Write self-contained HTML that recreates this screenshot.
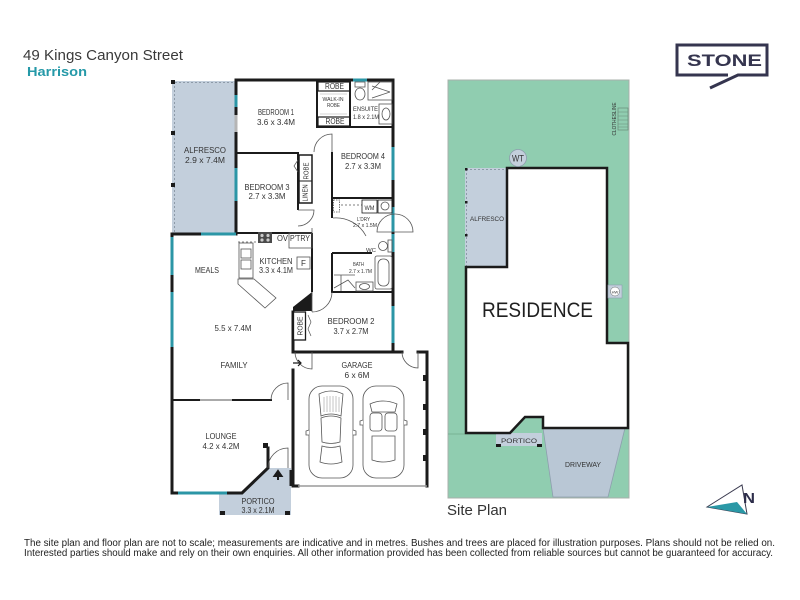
<!DOCTYPE html>
<html><head><meta charset="utf-8"><style>
html,body{margin:0;padding:0;background:#fff;}
svg{display:block}
text{font-family:"Liberation Sans",Arial,sans-serif;}
</style></head><body>
<svg width="800" height="600" viewBox="0 0 800 600" xmlns="http://www.w3.org/2000/svg">
<rect width="800" height="600" fill="#fff"/>

<!-- Header -->
<text x="23" y="60" font-size="14.5" fill="#3a3a3a" textLength="160" lengthAdjust="spacingAndGlyphs">49 Kings Canyon Street</text>
<text x="27" y="76" font-size="13" font-weight="bold" fill="#2599a8" textLength="60" lengthAdjust="spacingAndGlyphs">Harrison</text>

<!-- STONE logo -->
<g stroke="#35354f" stroke-width="3" fill="none">
  <path d="M728,75 H677 V45 H767 V75 H738 L710,88"/>
</g>
<text x="687" y="66" font-size="17" font-weight="bold" fill="#35354f" textLength="75" lengthAdjust="spacingAndGlyphs">STONE</text>

<!-- ================= FLOOR PLAN ================= -->
<!-- Alfresco -->
<rect x="172" y="81" width="64" height="153" fill="#c3cfdc"/>
<line x1="175" y1="82.5" x2="236" y2="82.5" stroke="#8d9aa8" stroke-width="1" stroke-dasharray="2,2"/>
<line x1="174.5" y1="82" x2="174.5" y2="233" stroke="#8d9aa8" stroke-width="1" stroke-dasharray="2,2"/>
<g fill="#1b1b1b">
  <rect x="171" y="80" width="4" height="4"/>
  <rect x="171" y="131" width="4" height="4"/>
  <rect x="171" y="183" width="4" height="4"/>
</g>

<!-- Portico fill -->
<polygon points="219,493 242,493 268,468 291,468 291,515 219,515" fill="#c3cfdc"/>
<g fill="#1b1b1b">
  <rect x="220" y="511" width="5" height="4"/>
  <rect x="285" y="511" width="5" height="4"/>
  <rect x="263" y="443" width="5" height="5"/>
</g>

<!-- Outer walls -->
<g stroke="#1b1b1b" stroke-width="3" fill="none" stroke-linecap="square">
  <path d="M236,80 H393 V352"/>
  <path d="M293,352 H402"/>
  <path d="M418,352 H427 V486"/>
  <path d="M172,234 H236 V80"/>
  <path d="M172,234 V493 H242 L268,468 V448"/>
  <path d="M293,370 V486 H298"/>
  <path d="M293,312 V352"/>
</g>
<line x1="298" y1="486" x2="427" y2="486" stroke="#9a9a9a" stroke-width="1.5"/>
<line x1="291" y1="470" x2="291" y2="486" stroke="#1b1b1b" stroke-width="3"/>
<g fill="#1b1b1b">
  <rect x="423" y="375" width="5" height="6"/>
  <rect x="423" y="404" width="5" height="6"/>
  <rect x="423" y="429" width="5" height="6"/>
  <rect x="423" y="455" width="5" height="6"/>
</g>

<!-- Windows (teal) -->
<g stroke="#2b96a6" stroke-width="3" fill="none">
  <line x1="353" y1="80" x2="367" y2="80"/>
  <line x1="393" y1="147" x2="393" y2="180"/>
  <line x1="393" y1="207" x2="393" y2="232"/>
  <line x1="393" y1="234" x2="393" y2="252"/>
  <line x1="393" y1="306" x2="393" y2="343"/>
  <line x1="172" y1="237" x2="172" y2="275"/>
  <line x1="172" y1="292" x2="172" y2="347"/>
  <line x1="201" y1="234" x2="236" y2="234"/>
  <line x1="178" y1="493" x2="227" y2="493"/>
  <line x1="236" y1="95" x2="236" y2="107"/>
  <line x1="236" y1="168" x2="236" y2="201"/>
</g>
<line x1="236" y1="115" x2="236" y2="132" stroke="#b5b5b5" stroke-width="3"/>

<!-- Interior walls -->
<g stroke="#1b1b1b" stroke-width="2" fill="none">
  <path d="M236,153 H298 V210"/>
  <path d="M317,80 V127 H393"/>
  <path d="M350,80 V127"/>
  <path d="M332,152 V218"/>
  <path d="M332,198 H393"/>
  <path d="M332,253 H372"/>
  <path d="M332,253 V292 H393"/>
  <path d="M312,233 V292"/>
  <path d="M236,233 H312"/>
  <path d="M172,400 H272"/>
  <path d="M332,292 H334"/>
</g>
<!-- Linen / robe closet -->
<rect x="299" y="155" width="13" height="48" fill="#fff" stroke="#1b1b1b" stroke-width="1.5"/>
<line x1="299" y1="181" x2="312" y2="181" stroke="#1b1b1b" stroke-width="1"/>
<path d="M298,160 L294,166 L298,172" stroke="#555" stroke-width="0.7" fill="none"/>

<!-- Black triangle + robe bedroom 2 -->
<polygon points="293,307 312,292 312,311 293,311" fill="#1b1b1b"/>
<rect x="293.5" y="312" width="12" height="28" fill="#fff" stroke="#1b1b1b" stroke-width="1.3"/>
<path d="M308,315 L311,322 L308,329 L311,336" stroke="#555" stroke-width="0.7" fill="none"/>

<!-- Walk-in robe shelves -->
<g stroke="#1b1b1b" stroke-width="1.2" fill="none">
  <rect x="318" y="82" width="32" height="9"/>
  <rect x="318" y="117" width="32" height="9"/>
</g>
<line x1="320" y1="94" x2="347" y2="94" stroke="#aaa" stroke-width="0.6"/>
<line x1="320" y1="114" x2="347" y2="114" stroke="#aaa" stroke-width="0.6"/>

<!-- Ensuite fixtures -->
<g stroke="#555" stroke-width="0.8" fill="none">
  <rect x="355" y="82" width="10" height="5"/>
  <ellipse cx="360" cy="94" rx="5" ry="6"/>
  <rect x="368" y="82" width="24" height="18"/>
  <path d="M372,86 L390,92 M372,98 L390,92 M380,82 L372,90"/>
  <rect x="379" y="104" width="13" height="20"/>
  <ellipse cx="386" cy="114" rx="4" ry="6"/>
</g>

<!-- Laundry fixtures -->
<g stroke="#555" stroke-width="0.8" fill="none">
  <rect x="333.5" y="200" width="6" height="12" stroke-dasharray="1.5,1"/>
  <line x1="341" y1="205" x2="362" y2="205" stroke-dasharray="2,2"/>
  <rect x="362" y="200" width="15" height="13" stroke="#1b1b1b"/>
  <rect x="378" y="200" width="14" height="13" stroke="#1b1b1b"/>
  <ellipse cx="385" cy="206" rx="4" ry="4"/>
</g>
<text x="369.5" y="210" font-size="6" fill="#333" text-anchor="middle" textLength="10" lengthAdjust="spacingAndGlyphs">WM</text>

<!-- WC & Bath fixtures -->
<g stroke="#555" stroke-width="0.8" fill="none">
  <ellipse cx="383" cy="246" rx="4.5" ry="4.5"/>
  <rect x="388" y="240" width="4" height="12"/>
  <rect x="375" y="256" width="17" height="33" rx="2"/>
  <rect x="378" y="259" width="11" height="27" rx="5"/>
  <rect x="356" y="282" width="17" height="9"/>
  <ellipse cx="364.5" cy="286.5" rx="5" ry="3"/>
  <path d="M334,275 L355,275 M334,288 L348,280 L355,288 M341,275 L341,291"/>
</g>

<!-- Kitchen -->
<g stroke="#555" stroke-width="0.8" fill="none">
  <line x1="238" y1="242" x2="258" y2="242" stroke-dasharray="2,2"/>
  <rect x="239" y="243" width="14" height="35"/>
  <rect x="241" y="249" width="10" height="9"/>
  <rect x="241" y="260" width="10" height="9"/>
  <polygon points="238,279 254,279 276,298 265,308 238,284"/>
  <rect x="289" y="233" width="23" height="15"/>
  <rect x="297" y="257" width="13" height="12"/>
  <line x1="312" y1="292" x2="312" y2="296"/>
</g>
<rect x="258" y="232" width="14" height="11" fill="#4a4a4a"/>
<g fill="#ccc"><circle cx="262" cy="235.5" r="1.6"/><circle cx="268" cy="235.5" r="1.6"/><circle cx="262" cy="240" r="1.6"/><circle cx="268" cy="240" r="1.6"/></g>

<!-- Doors -->
<g stroke="#555" stroke-width="0.8" fill="none">
  <path d="M332,152 V134 A18,18 0 0,0 314,152"/>
  <path d="M298,210 H314 A16,16 0 0,1 298,226"/>
  <path d="M333,218 A34,34 0 0,1 366,236"/>
  <path d="M377,232 A18,18 0 0,1 413,232 Z"/>
  <path d="M312,292 V312 M312,312 A20,20 0 0,0 332,292"/>
  <path d="M288,400 V383 A17,17 0 0,0 271,400"/>
  <path d="M312,352 V369 A17,17 0 0,1 295,352"/>
  <path d="M418,352 V368 A16,16 0 0,1 402,352"/>
  <path d="M288,468 V448 A20,20 0 0,0 268,468"/>
  <path d="M312,228 V248"/>
</g>
<line x1="200" y1="400" x2="232" y2="400" stroke="#aaa" stroke-width="2"/>
<!-- arrows -->
<path d="M293,363 H301 M298,360 L301,363 L298,366" stroke="#1b1b1b" stroke-width="1.2" fill="none"/>
<path d="M278,480 V474 M274.5,476 L278,471 L281.5,476 Z" stroke="#1b1b1b" stroke-width="2" fill="#1b1b1b"/>

<!-- Cars -->
<g stroke="#555" stroke-width="0.8" fill="#fff">
  <rect x="309" y="386" width="44" height="92" rx="13"/>
  <path d="M319,394 Q331,388 343,394 L341,416 Q331,412 321,416 Z"/>
  <path d="M321,418 Q331,414 341,418 L340,442 Q331,445 322,442 Z"/>
  <path d="M322,446 Q331,449 340,446 L342,462 Q331,466 320,462 Z"/>
  <path d="M309,430 l-3,1 l0,4 l3,0 M353,430 l3,1 l0,4 l-3,0"/>
  <rect x="363" y="386" width="41" height="92" rx="13"/>
  <path d="M370,404 Q383,398 397,404 L395,412 L372,412 Z"/>
  <rect x="370" y="413" width="12" height="18" rx="3"/>
  <rect x="385" y="413" width="12" height="18" rx="3"/>
  <path d="M372,436 L395,436 L395,460 Q383,464 372,460 Z"/>
  <path d="M363,420 l-3,1 l0,4 l3,0 M404,420 l3,1 l0,4 l-3,0"/>
</g>
<g stroke="#888" stroke-width="0.5">
  <path d="M324,397 V412 M327,396 V412 M330,396 V412 M333,396 V412 M336,396 V412 M339,397 V412"/>
</g>

<!-- Floor plan labels -->
<g font-size="8" fill="#333" text-anchor="middle">
  <text x="276" y="115" textLength="36" lengthAdjust="spacingAndGlyphs">BEDROOM 1</text>
  <text x="276" y="125" textLength="38" lengthAdjust="spacingAndGlyphs">3.6 x 3.4M</text>
  <text x="205" y="153" textLength="42" lengthAdjust="spacingAndGlyphs">ALFRESCO</text>
  <text x="205" y="163" textLength="40" lengthAdjust="spacingAndGlyphs">2.9 x 7.4M</text>
  <text x="363" y="159" textLength="44" lengthAdjust="spacingAndGlyphs">BEDROOM 4</text>
  <text x="363" y="169" textLength="36" lengthAdjust="spacingAndGlyphs">2.7 x 3.3M</text>
  <text x="267" y="190" textLength="45" lengthAdjust="spacingAndGlyphs">BEDROOM 3</text>
  <text x="267" y="199" textLength="37" lengthAdjust="spacingAndGlyphs">2.7 x 3.3M</text>
  <text x="207" y="273" textLength="24" lengthAdjust="spacingAndGlyphs">MEALS</text>
  <text x="276" y="264" textLength="33" lengthAdjust="spacingAndGlyphs">KITCHEN</text>
  <text x="276" y="273" textLength="34" lengthAdjust="spacingAndGlyphs">3.3 x 4.1M</text>
  <text x="233" y="331" textLength="37" lengthAdjust="spacingAndGlyphs">5.5 x 7.4M</text>
  <text x="234" y="368" textLength="27" lengthAdjust="spacingAndGlyphs">FAMILY</text>
  <text x="351" y="324" textLength="47" lengthAdjust="spacingAndGlyphs">BEDROOM 2</text>
  <text x="351" y="334" textLength="35" lengthAdjust="spacingAndGlyphs">3.7 x 2.7M</text>
  <text x="357" y="368" textLength="31" lengthAdjust="spacingAndGlyphs">GARAGE</text>
  <text x="357" y="378" textLength="25" lengthAdjust="spacingAndGlyphs">6 x 6M</text>
  <text x="221" y="439" textLength="31" lengthAdjust="spacingAndGlyphs">LOUNGE</text>
  <text x="221" y="449" textLength="37" lengthAdjust="spacingAndGlyphs">4.2 x 4.2M</text>
  <text x="258" y="504" textLength="33" lengthAdjust="spacingAndGlyphs">PORTICO</text>
  <text x="258" y="513" textLength="33" lengthAdjust="spacingAndGlyphs">3.3 x 2.1M</text>
  <text x="282.5" y="241" textLength="11" lengthAdjust="spacingAndGlyphs">OV</text>
  <text x="300" y="241" textLength="20" lengthAdjust="spacingAndGlyphs">P'TRY</text>
  <text x="303.5" y="266">F</text>
  <text x="334.5" y="89" textLength="19" lengthAdjust="spacingAndGlyphs">ROBE</text>
  <text x="335" y="124" textLength="19" lengthAdjust="spacingAndGlyphs">ROBE</text>
</g>
<g font-size="5.5" fill="#333" text-anchor="middle">
  <text x="333" y="101" textLength="21" lengthAdjust="spacingAndGlyphs">WALK-IN</text>
  <text x="333.5" y="107" textLength="13" lengthAdjust="spacingAndGlyphs">ROBE</text>
  <text x="365.5" y="111" font-size="6.5" textLength="25" lengthAdjust="spacingAndGlyphs">ENSUITE</text>
  <text x="366" y="119" font-size="6.5" textLength="26" lengthAdjust="spacingAndGlyphs">1.8 x 2.1M</text>
  <text x="363.5" y="221" textLength="13" lengthAdjust="spacingAndGlyphs">L'DRY</text>
  <text x="365" y="227" textLength="24" lengthAdjust="spacingAndGlyphs">2.7 x 1.5M</text>
  <text x="371" y="252" textLength="10" lengthAdjust="spacingAndGlyphs">WC</text>
  <text x="358.5" y="266" textLength="11" lengthAdjust="spacingAndGlyphs">BATH</text>
  <text x="360.5" y="273" textLength="23" lengthAdjust="spacingAndGlyphs">2.7 x 1.7M</text>
</g>
<g font-size="7" fill="#333" text-anchor="middle">
  <text transform="translate(307.5,193) rotate(-90)" textLength="17" lengthAdjust="spacingAndGlyphs">LINEN</text>
  <text transform="translate(308.5,171) rotate(-90)" textLength="17" lengthAdjust="spacingAndGlyphs">ROBE</text>
  <text transform="translate(302.5,326) rotate(-90)" textLength="19" lengthAdjust="spacingAndGlyphs">ROBE</text>
</g>

<!-- ================= SITE PLAN ================= -->
<rect x="448" y="80" width="181" height="418" fill="#90cdb0" stroke="#a8b0ab" stroke-width="1"/>
<line x1="448" y1="434" x2="496" y2="434" stroke="#6fa88c" stroke-width="0.8"/>
<!-- Alfresco -->
<rect x="465" y="168" width="42" height="99" fill="#c3cfdc"/>
<line x1="466" y1="169.5" x2="507" y2="169.5" stroke="#8d9aa8" stroke-width="1" stroke-dasharray="2,2"/>
<line x1="466.5" y1="169" x2="466.5" y2="267" stroke="#8d9aa8" stroke-width="1" stroke-dasharray="2,2"/>
<g fill="#1b1b1b">
  <rect x="465" y="168" width="2.5" height="2.5"/>
  <rect x="465" y="201" width="2.5" height="2.5"/>
  <rect x="465" y="234" width="2.5" height="2.5"/>
</g>
<text x="487" y="221" font-size="6.5" fill="#333" text-anchor="middle" textLength="34" lengthAdjust="spacingAndGlyphs">ALFRESCO</text>
<!-- Driveway -->
<polygon points="543,428 625,428 608,497 553,497" fill="#b9c7d5" stroke="#8e9eae" stroke-width="0.8"/>
<text x="583" y="467" font-size="7" fill="#333" text-anchor="middle" textLength="36" lengthAdjust="spacingAndGlyphs">DRIVEWAY</text>
<!-- Portico -->
<rect x="496" y="433" width="46" height="13" fill="#c3cfdc"/>
<rect x="496" y="444" width="5" height="3" fill="#1b1b1b"/>
<rect x="537" y="444" width="5" height="3" fill="#1b1b1b"/>
<text x="519" y="443" font-size="6.5" fill="#333" text-anchor="middle" textLength="36" lengthAdjust="spacingAndGlyphs">PORTICO</text>
<!-- Residence -->
<polygon points="507,168 607,168 607,343 628,343 628,428 543,428 543,417 525,417 510,433 466,433 466,267 507,267" fill="#fff" stroke="#1b1b1b" stroke-width="2.5" stroke-linejoin="miter"/>
<text x="537.5" y="317" font-size="21" fill="#1f1f1f" text-anchor="middle" textLength="111" lengthAdjust="spacingAndGlyphs">RESIDENCE</text>
<!-- WT -->
<circle cx="518" cy="158" r="8.5" fill="#c3cfdc" stroke="#8e9eae" stroke-width="0.8"/>
<text x="518" y="161.5" font-size="9" fill="#333" text-anchor="middle" textLength="12" lengthAdjust="spacingAndGlyphs">WT</text>
<!-- HW -->
<rect x="608" y="285" width="14" height="13" fill="#c3cfdc" stroke="#8e9eae" stroke-width="0.6"/>
<circle cx="615" cy="291.5" r="4.5" fill="#fff" stroke="#666" stroke-width="0.5"/>
<text x="615" y="293.3" font-size="4" fill="#333" text-anchor="middle">HW</text>
<!-- Clothesline -->
<rect x="618" y="108" width="10" height="22" fill="none" stroke="#6a8c7a" stroke-width="0.7"/>
<g stroke="#6a8c7a" stroke-width="0.5">
  <line x1="618" y1="112" x2="628" y2="112"/><line x1="618" y1="116" x2="628" y2="116"/>
  <line x1="618" y1="120" x2="628" y2="120"/><line x1="618" y1="124" x2="628" y2="124"/>
  <line x1="618" y1="127" x2="628" y2="127"/>
</g>
<text transform="translate(616,119) rotate(-90)" font-size="5.5" fill="#333" text-anchor="middle" textLength="33" lengthAdjust="spacingAndGlyphs">CLOTHESLINE</text>

<text x="447" y="515" font-size="15" fill="#333" textLength="60" lengthAdjust="spacingAndGlyphs">Site Plan</text>

<!-- North arrow -->
<polygon points="707,507 742,485 747,514" fill="#fff" stroke="#3a3a4f" stroke-width="1"/>
<polygon points="707,507 737,502 747,514" fill="#2a98a6"/>
<text x="743" y="503" font-size="14.5" font-weight="bold" fill="#2d2d4a" textLength="12" lengthAdjust="spacingAndGlyphs">N</text>

<!-- Footer -->
<text x="24" y="546" font-size="10" fill="#222" textLength="751" lengthAdjust="spacingAndGlyphs">The site plan and floor plan are not to scale; measurements are indicative and in metres. Bushes and trees are placed for illustration purposes. Plans should not be relied on.</text>
<text x="24" y="556" font-size="10" fill="#222" textLength="749" lengthAdjust="spacingAndGlyphs">Interested parties should make and rely on their own enquiries. All other information provided has been collected from reliable sources but cannot be guaranteed for accuracy.</text>
</svg>
</body></html>
